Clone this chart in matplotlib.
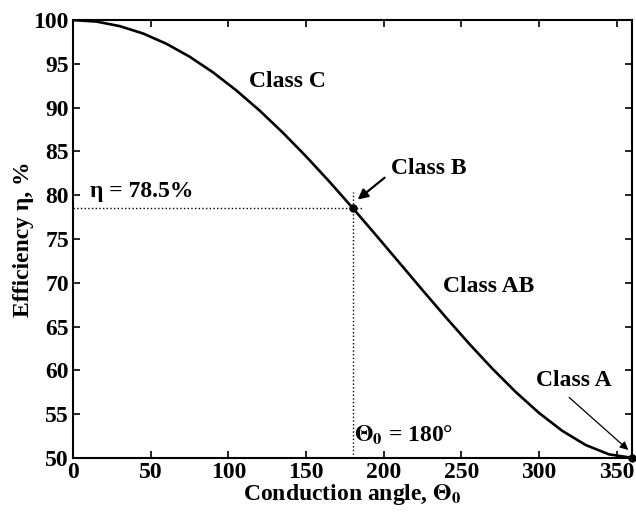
import matplotlib
matplotlib.use('Agg')
import matplotlib.pyplot as plt

# Efficiency vs conduction angle
theta = [0, 15, 30, 45, 60, 75, 90, 105, 120, 135, 150, 165, 180,
         195, 210, 225, 240, 255, 270, 285, 300, 315, 330, 345, 360]
eta = [100.0, 99.83, 99.31, 98.47, 97.30, 95.82, 94.04, 91.98, 89.68, 87.15, 84.43, 81.55, 78.54,
       75.44, 72.30, 69.15, 66.05, 63.04, 60.18, 57.52, 55.13, 53.08, 51.47, 50.40, 50.0]

class_b = (180, 78.5)
class_a = (360, 50.0)

x_ticks = [0, 50, 100, 150, 200, 250, 300, 350]
y_ticks = [50, 55, 60, 65, 70, 75, 80, 85, 90, 95, 100]

plt.rcParams['font.family'] = ['Liberation Serif', 'DejaVu Serif']
plt.rcParams['font.weight'] = 'bold'
plt.rcParams['axes.labelweight'] = 'bold'
plt.rcParams['mathtext.fontset'] = 'stix'
plt.rcParams['mathtext.default'] = 'bf'

fig = plt.figure(figsize=(6.36, 5.15), dpi=100)
ax = fig.add_axes([0.115, 0.111, 0.879, 0.850])

ax.plot(theta, eta, color='black', lw=1.9, solid_capstyle='butt')
ax.plot(*class_b, 'o', color='black', ms=5)
ax.plot(*class_a, 'o', color='black', ms=5, clip_on=False)

# dotted guide lines for class B
ax.plot([0, 186], [class_b[1], class_b[1]], ls=':', color='black', lw=1)
ax.plot([class_b[0], class_b[0]], [50, 80.4], ls=':', color='black', lw=1)

ax.set_xlim(0, 360)
ax.set_ylim(50, 100)
ax.set_xticks(x_ticks)
ax.set_yticks(y_ticks)
ax.tick_params(direction='in', length=5, width=1.2, top=True, right=True,
               labelsize=17, pad=3)
for sp in ax.spines.values():
    sp.set_linewidth(1.5)

ax.set_xlabel(r'Conduction angle, $\Theta_0$', fontsize=17, fontweight='bold', labelpad=-1)
ax.set_ylabel('Efficiency η, %', fontsize=17, fontweight='bold', labelpad=0)

ax.text(138, 93.0, 'Class C', fontsize=17, ha='center', va='center')
ax.text(267.7, 69.6, 'Class AB', fontsize=17, ha='center', va='center')
ax.text(11, 80.4, 'η = 78.5%', fontsize=17, ha='left', va='center')
ax.text(180.8, 52.6, r'$\Theta_0$ = 180°', fontsize=17, ha='left', va='center')
ax.text(229, 83.1, 'Class B', fontsize=17, ha='center', va='center')
ax.text(322.6, 58.8, 'Class A', fontsize=17, ha='center', va='center')

ax.annotate('', xy=(183.2, 79.5), xytext=(200.6, 82.0),
            arrowprops=dict(arrowstyle='-|>', color='black', lw=1.6,
                            mutation_scale=15, shrinkA=0, shrinkB=0))
ax.annotate('', xy=(357.5, 50.9), xytext=(319.4, 56.9),
            arrowprops=dict(arrowstyle='-|>', color='black', lw=0.9,
                            mutation_scale=12, shrinkA=0, shrinkB=0))

fig.savefig('out.png', dpi=100)
